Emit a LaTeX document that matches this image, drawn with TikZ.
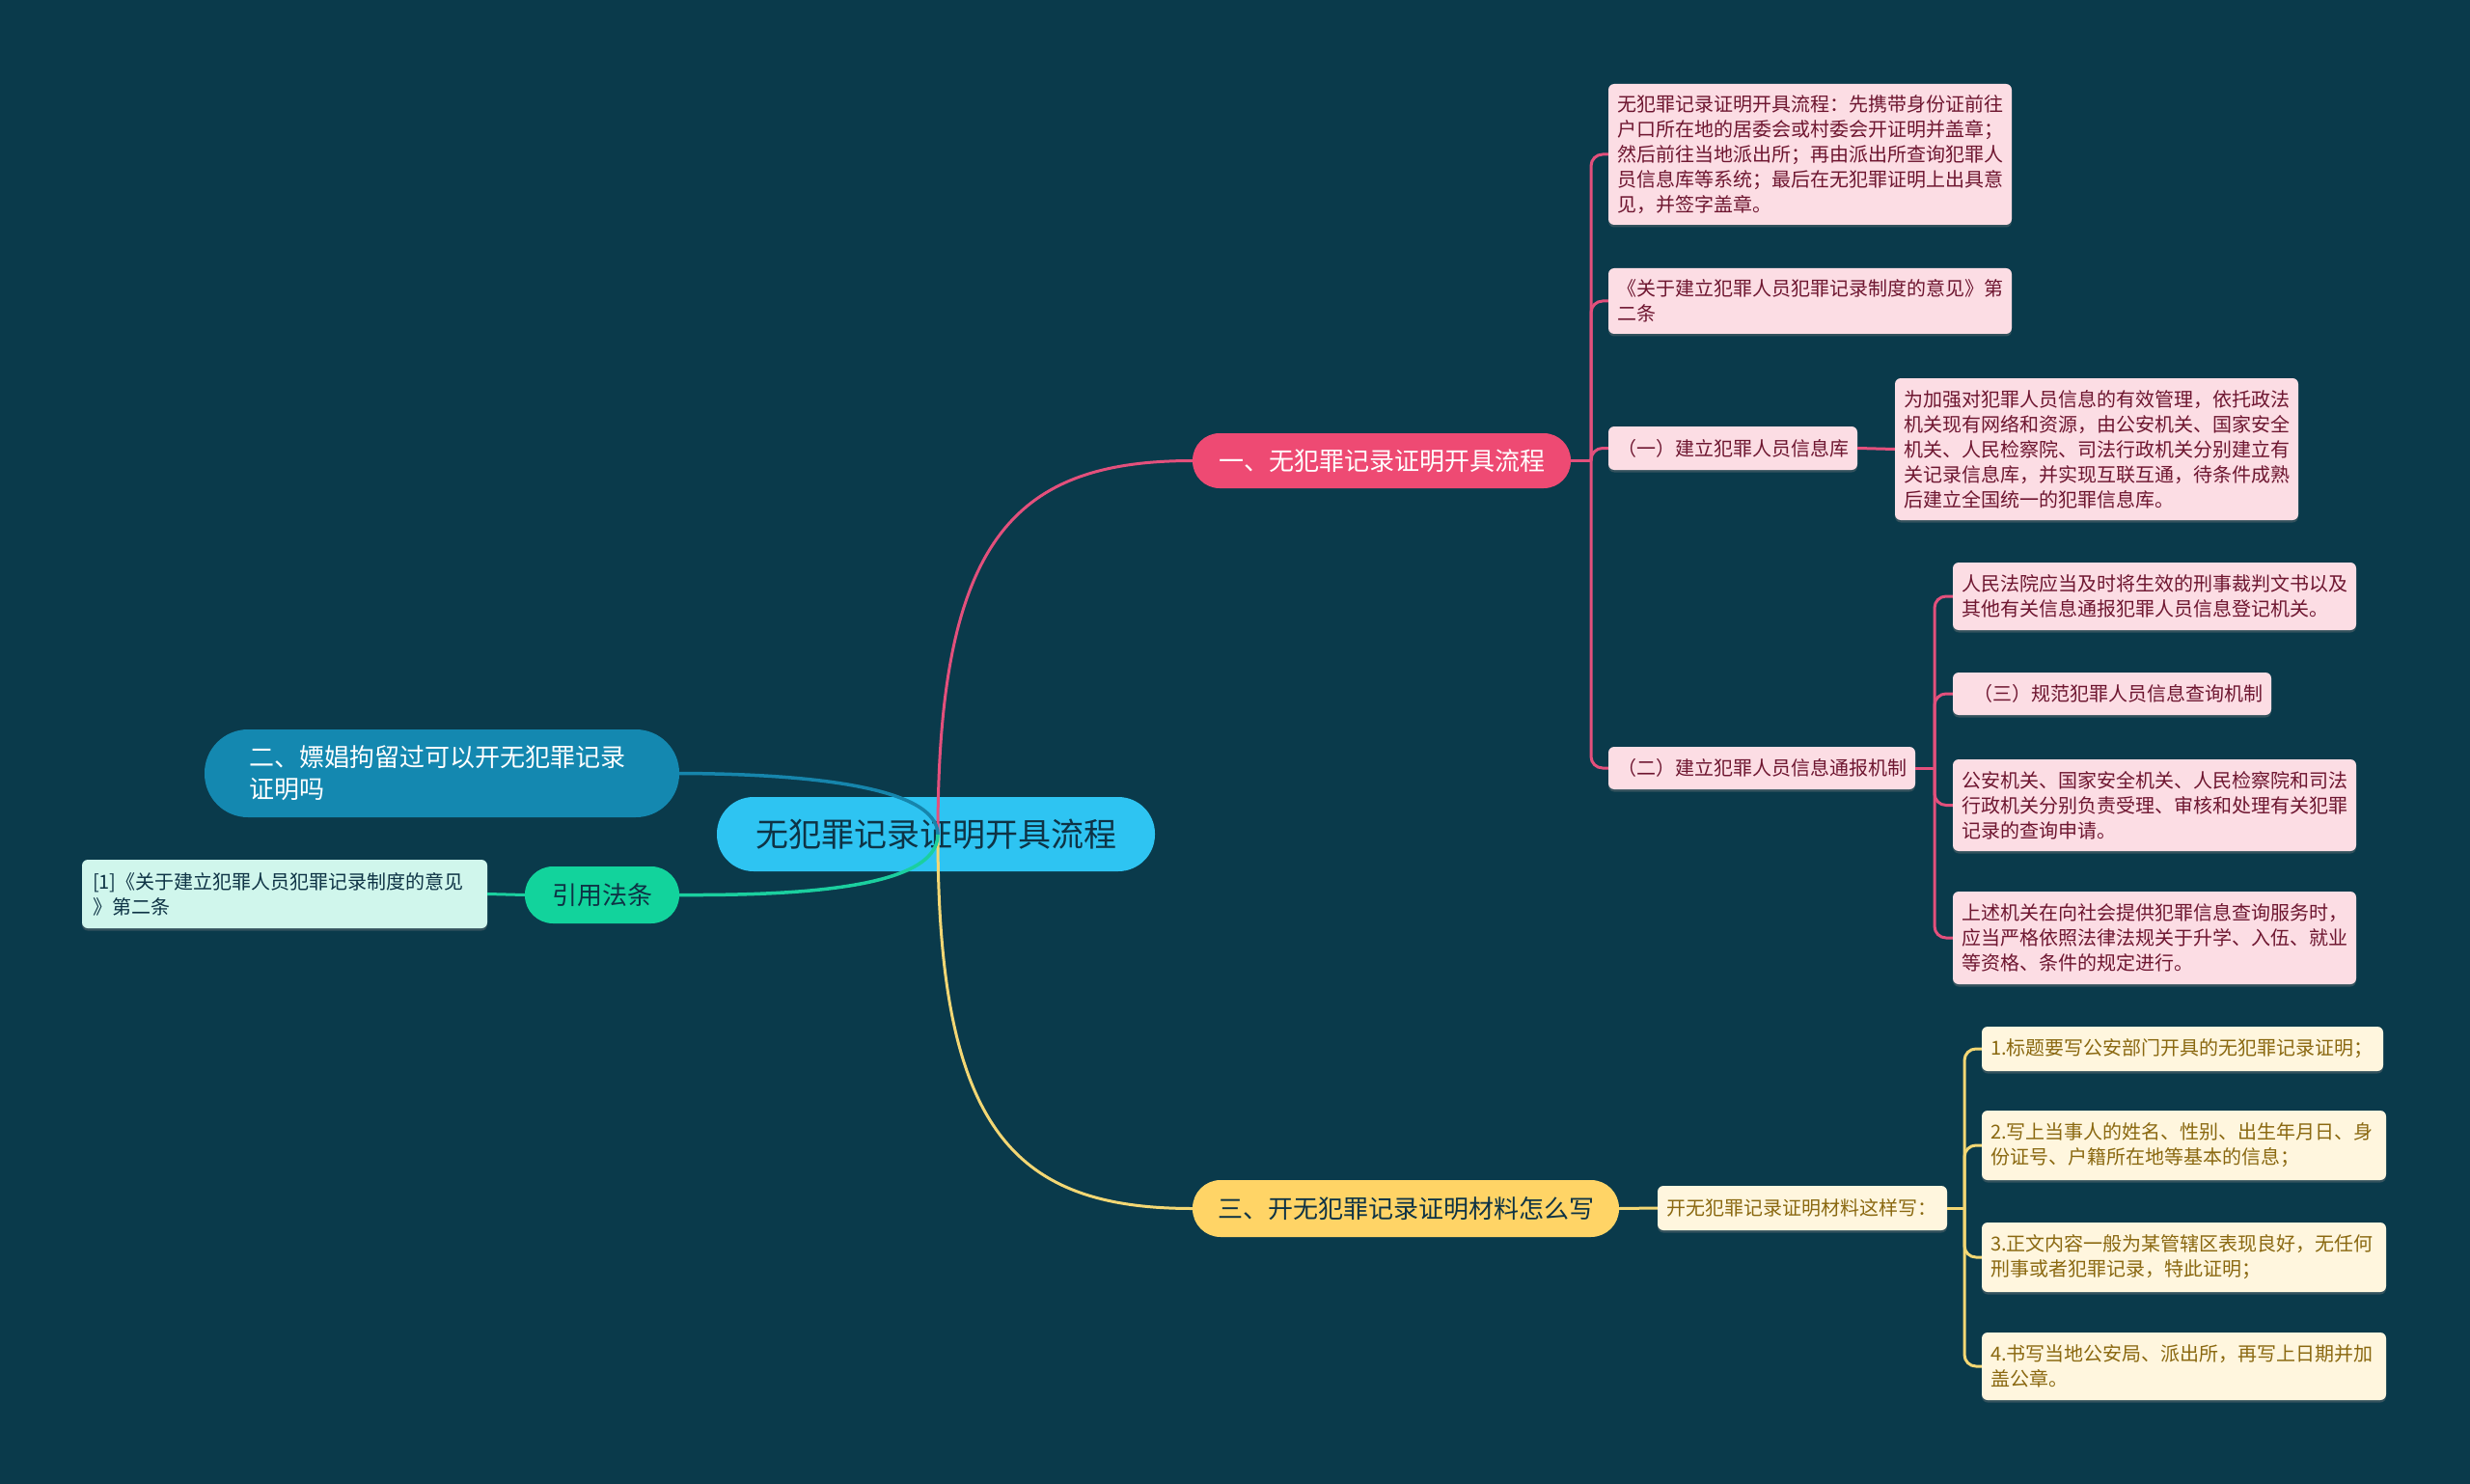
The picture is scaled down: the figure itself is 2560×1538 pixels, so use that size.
\documentclass[tikz,border=0pt]{standalone}
\usepackage{fontspec}
\newfontfamily\cjk{Noto Sans CJK SC}
\usetikzlibrary{shadows}
\definecolor{bg}{HTML}{0A3A4B}
\definecolor{cfill}{HTML}{2EC4F2}
\definecolor{ctext}{HTML}{0E3345}
\definecolor{pbranch}{HTML}{EE4A73}
\definecolor{pline}{HTML}{E3507C}
\definecolor{pfill}{HTML}{FCDDE4}
\definecolor{ptext}{HTML}{6E1630}
\definecolor{ybranch}{HTML}{FFD466}
\definecolor{yline}{HTML}{F3D774}
\definecolor{yfill}{HTML}{FFF6DE}
\definecolor{ytext}{HTML}{8A6810}
\definecolor{bbranch}{HTML}{1488B0}
\definecolor{bline}{HTML}{1685AC}
\definecolor{gbranch}{HTML}{12D39C}
\definecolor{gline}{HTML}{1BCF9F}
\definecolor{gfill}{HTML}{D0F6EC}
\begin{document}
\begin{tikzpicture}[x=1pt,y=-1pt,
  box/.style={rounded corners=6pt, inner xsep=9pt, inner ysep=0pt, align=left, anchor=center,
    drop shadow={opacity=0.35, shadow xshift=0pt, shadow yshift=-2.5pt}},
  pleaf/.style={box, fill=pfill, text=ptext, font=\cjk\fontsize{20}{26}\selectfont},
  yleaf/.style={box, fill=yfill, text=ytext, font=\cjk\fontsize{20}{26}\selectfont},
  gleaf/.style={box, fill=gfill, text=ctext, font=\cjk\fontsize{20}{26}\selectfont, inner xsep=11pt},
  branch/.style={anchor=center, inner sep=0pt, font=\cjk\fontsize{26}{33}\selectfont},
  pconn/.style={draw=pline, line width=3pt, rounded corners=12pt},
  yconn/.style={draw=yline, line width=3pt, rounded corners=12pt},
]
\fill[bg] (0,0) rectangle (2560,1538);
\useasboundingbox (0,0) rectangle (2560,1538);

% central
\node[anchor=center, fill=cfill, rounded corners=38pt, minimum width=454pt, minimum height=77pt,
  inner sep=0pt, text=ctext, font=\cjk\fontsize{34}{40}\selectfont] (C) at (970,864.5) {无犯罪记录证明开具流程};
\coordinate (cc) at (972,865);

% main branches
\node[branch, fill=pbranch, text=white, rounded corners=28pt, minimum width=392pt, minimum height=57pt] (B1) at (1432,477.5) {一、无犯罪记录证明开具流程};
\node[branch, fill=ybranch, text=ctext, rounded corners=29pt, minimum width=442pt, minimum height=59pt] (B3) at (1457,1252.5) {三、开无犯罪记录证明材料怎么写};
\node[branch, fill=bbranch, text=white, rounded corners=45pt, minimum height=91pt, inner xsep=46pt, text width=400pt, align=left] (B2) at (458,801.5) {二、嫖娼拘留过可以开无犯罪记录\\证明吗};
\node[branch, fill=gbranch, text=ctext, rounded corners=29pt, minimum width=160pt, minimum height=59pt] (G) at (624,927.5) {引用法条};
\node[gleaf, text width=398pt, minimum height=71pt] (R) at (295,926.5) {[1]《关于建立犯罪人员犯罪记录制度的意见\\》第二条};

% main curves (drawn over the central node)
\draw[pline, line width=3pt] (cc) .. controls (972,560) and (1050,477.5) .. (B1.west);
\draw[yline, line width=3pt] (cc) .. controls (972,1170) and (1050,1252.5) .. (B3.west);
\draw[bline, line width=3.5pt] (cc) .. controls (972,812) and (820,802) .. (B2.east);
\draw[gline, line width=3.5pt] (cc) .. controls (972,922) and (820,928) .. (G.east);
\draw[gline, line width=3pt] (G.west) -- (R.east);

% pink leaves
\node[pleaf, text width=400pt, minimum height=146pt] (L1) at (1876,160) {无犯罪记录证明开具流程：先携带身份证前往\\户口所在地的居委会或村委会开证明并盖章；\\然后前往当地派出所；再由派出所查询犯罪人\\员信息库等系统；最后在无犯罪证明上出具意\\见，并签字盖章。};
\node[pleaf, text width=400pt, minimum height=68pt] (L2) at (1876,312) {《关于建立犯罪人员犯罪记录制度的意见》第\\二条};
\node[pleaf, text width=240pt, minimum height=45pt] (L3) at (1796,464.5) {（一）建立犯罪人员信息库};
\node[pleaf, text width=400pt, minimum height=147pt] (L3c) at (2173,465.5) {为加强对犯罪人员信息的有效管理，依托政法\\机关现有网络和资源，由公安机关、国家安全\\机关、人民检察院、司法行政机关分别建立有\\关记录信息库，并实现互联互通，待条件成熟\\后建立全国统一的犯罪信息库。};
\node[pleaf, text width=300pt, minimum height=44pt] (L4) at (1826,796) {（二）建立犯罪人员信息通报机制};
\node[pleaf, text width=400pt, minimum height=70pt] (C1) at (2233,618) {人民法院应当及时将生效的刑事裁判文书以及\\其他有关信息通报犯罪人员信息登记机关。};
\node[pleaf, text width=312pt, minimum height=44pt] (C2) at (2189,719) {\hspace*{12pt}（三）规范犯罪人员信息查询机制};
\node[pleaf, text width=400pt, minimum height=95pt] (C3) at (2233,834.5) {公安机关、国家安全机关、人民检察院和司法\\行政机关分别负责受理、审核和处理有关犯罪\\记录的查询申请。};
\node[pleaf, text width=400pt, minimum height=96pt] (C4) at (2233,972) {上述机关在向社会提供犯罪信息查询服务时，\\应当严格依照法律法规关于升学、入伍、就业\\等资格、条件的规定进行。};

% yellow leaves
\node[yleaf, text width=282pt, minimum height=46pt] (Y0) at (1868,1252) {开无犯罪记录证明材料这样写：};
\node[yleaf, text width=398pt, minimum height=46pt] (Y1) at (2262,1087) {1.标题要写公安部门开具的无犯罪记录证明；};
\node[yleaf, text width=401pt, minimum height=72pt] (Y2) at (2263.5,1187) {2.写上当事人的姓名、性别、出生年月日、身\\份证号、户籍所在地等基本的信息；};
\node[yleaf, text width=401pt, minimum height=72pt] (Y3) at (2263.5,1303) {3.正文内容一般为某管辖区表现良好，无任何\\刑事或者犯罪记录，特此证明；};
\node[yleaf, text width=401pt, minimum height=70pt] (Y4) at (2263.5,1416) {4.书写当地公安局、派出所，再写上日期并加\\盖公章。};

% pink connectors
\coordinate (pb) at (1649,477.5);
\draw[pconn] (B1.east) -- (pb);
\foreach \n in {L1,L2,L3,L4} \draw[pconn] (pb) |- (\n.west);
\draw[pconn] (L3.east) -- (L3c.west);
\coordinate (qb) at (2005,796);
\draw[pconn] (L4.east) -- (qb);
\foreach \n in {C1,C2,C3,C4} \draw[pconn] (qb) |- (\n.west);

% yellow connectors
\draw[yconn] (B3.east) -- (Y0.west);
\coordinate (yb) at (2036,1252);
\draw[yconn] (Y0.east) -- (yb);
\foreach \n in {Y1,Y2,Y3,Y4} \draw[yconn] (yb) |- (\n.west);
\end{tikzpicture}
\end{document}
